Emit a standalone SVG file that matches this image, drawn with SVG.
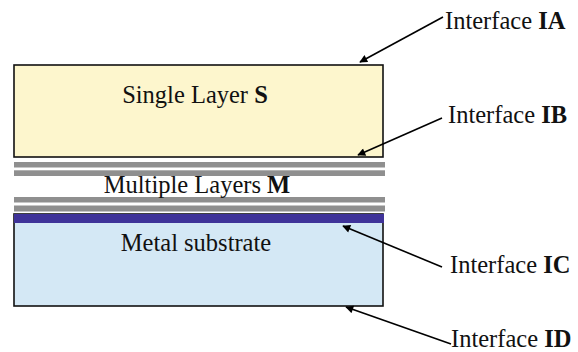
<svg xmlns="http://www.w3.org/2000/svg" width="578" height="352" viewBox="0 0 578 352">
  <style>
    .lbl { font-family: "Liberation Serif", "Times New Roman", serif; font-size: 24.5px; fill: #111; }
    .b { font-weight: bold; }
    .bar { fill: #8f8f8f; }
    .conn { stroke: #000; stroke-width: 1.6; fill: none; marker-end: url(#head); }
  </style>
  <defs>
    <marker id="head" viewBox="0 0 10 10" refX="9" refY="5" markerWidth="9" markerHeight="8" markerUnits="userSpaceOnUse" orient="auto">
      <path d="M0,0 L10,5 L0,10 z" fill="#000"/>
    </marker>
  </defs>

  <rect width="578" height="352" fill="#fff"/>

  <!-- Single layer S -->
  <g id="single-layer">
    <rect x="14" y="65" width="369" height="92" fill="#fdf6cd" stroke="#111" stroke-width="1.6"/>
    <text class="lbl" x="195" y="103" text-anchor="middle">Single Layer <tspan class="b">S</tspan></text>
  </g>

  <!-- Multiple layers M -->
  <g id="multiple-layers">
    <rect class="bar" x="14" y="162" width="371" height="5.5"/>
    <rect class="bar" x="14" y="170.3" width="371" height="5.7"/>
    <rect class="bar" x="14" y="197" width="371" height="5.5"/>
    <rect class="bar" x="14" y="205.5" width="371" height="6"/>
    <text class="lbl" x="197" y="193" text-anchor="middle">Multiple Layers <tspan class="b">M</tspan></text>
  </g>

  <!-- Metal substrate -->
  <g id="metal-substrate">
    <rect x="14" y="214" width="369" height="92" fill="#d4e8f5" stroke="#111" stroke-width="1.6"/>
    <rect x="14" y="214" width="370" height="9" fill="#3f3399"/>
    <text class="lbl" x="196" y="251" text-anchor="middle">Metal substrate</text>
  </g>

  <!-- Interface labels -->
  <g id="interface-ia"><text class="lbl" x="445" y="29">Interface <tspan class="b">IA</tspan></text></g>
  <g id="interface-ib"><text class="lbl" x="448" y="123">Interface <tspan class="b">IB</tspan></text></g>
  <g id="interface-ic"><text class="lbl" x="450" y="273">Interface <tspan class="b">IC</tspan></text></g>
  <g id="interface-id"><text class="lbl" x="451" y="347">Interface <tspan class="b">ID</tspan></text></g>

  <!-- Connectors -->
  <g id="connectors">
    <line class="conn" x1="443" y1="17" x2="360" y2="62"/>
    <line class="conn" x1="442" y1="118" x2="358" y2="155"/>
    <line class="conn" x1="442" y1="267" x2="343" y2="226"/>
    <line class="conn" x1="451" y1="344" x2="346" y2="307"/>
  </g>
</svg>
